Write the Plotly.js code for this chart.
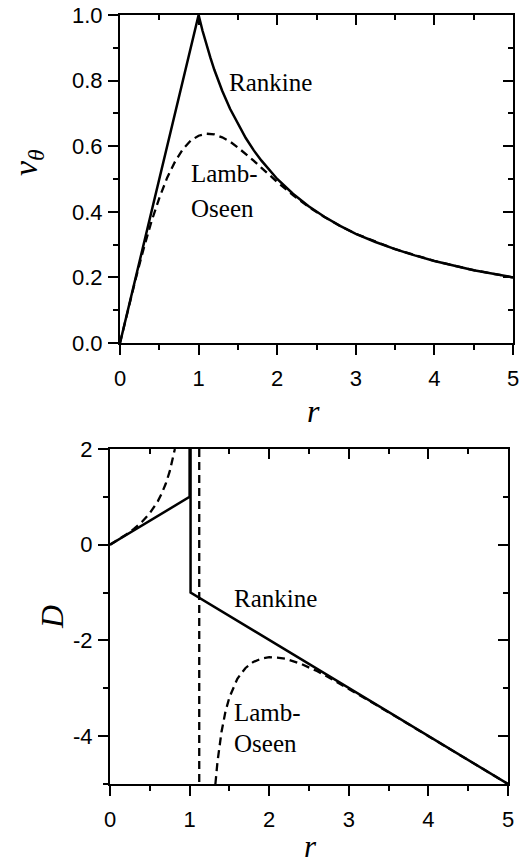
<!DOCTYPE html>
<html>
<head>
<meta charset="utf-8">
<script src="https://cdn.plot.ly/plotly-3.0.1.min.js"></script>
<style>html,body{margin:0;padding:0;background:#fff;}#chart{width:524px;height:867px;}</style>
</head>
<body>
<div id="chart"></div>
<script>
// ---- Top panel: azimuthal velocity v_theta vs r ----
const rankineVR = [0, 1, 1.05, 1.1, 1.15, 1.2, 1.3, 1.4, 1.5, 1.6, 1.7, 1.8, 2.0, 2.2, 2.4, 2.6, 2.8, 3.0, 3.25, 3.5, 3.75, 4.0, 4.5, 5.0];
const rankineV  = [0, 1, 0.952, 0.909, 0.870, 0.833, 0.769, 0.714, 0.667, 0.625, 0.588, 0.556, 0.500, 0.455, 0.417, 0.385, 0.357, 0.333, 0.308, 0.286, 0.267, 0.250, 0.222, 0.200];
const lambVR = [0, 0.1, 0.2, 0.3, 0.4, 0.5, 0.6, 0.7, 0.8, 0.9, 1.0, 1.1, 1.2, 1.3, 1.4, 1.5, 1.6, 1.7, 1.8, 1.9, 2.0, 2.2, 2.4, 2.6, 2.8, 3.0, 3.5, 4.0, 4.5, 5.0];
const lambV  = [0, 0.0995, 0.196, 0.287, 0.370, 0.442, 0.504, 0.553, 0.591, 0.617, 0.632, 0.638, 0.636, 0.627, 0.614, 0.596, 0.577, 0.556, 0.534, 0.512, 0.491, 0.451, 0.415, 0.384, 0.357, 0.333, 0.286, 0.250, 0.222, 0.200];

// ---- Bottom panel: D vs r ----
const rankineDR = [0, 1, 1, 1.012, 1.012, 5];
const rankineD  = [0, 1, 2, 2, -1, -5];
const lambDR = [0, 0.1, 0.2, 0.3, 0.4, 0.5, 0.6, 0.65, 0.7, 0.75, 0.8, 0.815, null, 1.121, 1.121, null,
                1.324, 1.35, 1.4, 1.45, 1.5, 1.6, 1.7, 1.8, 1.9, 2.0, 2.1, 2.2, 2.4, 2.6, 2.8, 3.0, 3.5, 4.0, 4.5, 5.0];
const lambD  = [0, 0.101, 0.208, 0.329, 0.474, 0.658, 0.907, 1.071, 1.273, 1.531, 1.870, 2.0, null, 2.0, -5.0, null,
                -5.0, -4.54, -3.92, -3.49, -3.19, -2.80, -2.58, -2.45, -2.38, -2.35, -2.36, -2.38, -2.49, -2.64, -2.82, -3.01, -3.5, -4.0, -4.5, -5.0];

const xTickVals = [0, 1, 2, 3, 4, 5];
const xTickText = ['0', '1', '2', '3', '4', '5'];
const vTickVals = [0, 0.2, 0.4, 0.6, 0.8, 1.0];
const vTickText = ['0.0', '0.2', '0.4', '0.6', '0.8', '1.0'];
const dTickVals = [2, 0, -2, -4];
const dTickText = ['2', '0', '-2', '-4'];

const W = 524, H = 867;
const px = v => v / W;
const py = v => 1 - v / H;

const solid = {color: '#000', width: 2.5};
const dashed = {color: '#000', width: 2.3, dash: '8px,5px'};

const traces = [
  {x: lambVR, y: lambV, mode: 'lines', line: dashed, xaxis: 'x', yaxis: 'y', hoverinfo: 'skip'},
  {x: rankineVR, y: rankineV, mode: 'lines', line: solid, xaxis: 'x', yaxis: 'y', hoverinfo: 'skip'},
  {x: lambDR, y: lambD, mode: 'lines', line: dashed, xaxis: 'x2', yaxis: 'y2', connectgaps: false, hoverinfo: 'skip'},
  {x: rankineDR, y: rankineD, mode: 'lines', line: solid, xaxis: 'x2', yaxis: 'y2', hoverinfo: 'skip'},
  // empty helpers so that the mirrored (top/right) frame axes are drawn
  {x: [], y: [], mode: 'lines', xaxis: 'x3', yaxis: 'y', hoverinfo: 'skip'},
  {x: [], y: [], mode: 'lines', xaxis: 'x', yaxis: 'y3', hoverinfo: 'skip'},
  {x: [], y: [], mode: 'lines', xaxis: 'x4', yaxis: 'y2', hoverinfo: 'skip'},
  {x: [], y: [], mode: 'lines', xaxis: 'x2', yaxis: 'y4', hoverinfo: 'skip'}
];

const tickFont = {family: 'Liberation Sans, Arial, sans-serif', size: 22, color: '#000'};
const baseAx = {
  showline: true, linecolor: '#000', linewidth: 2, showgrid: false, zeroline: false,
  ticks: 'outside', ticklen: 10, tickwidth: 2, tickcolor: '#000', tickfont: tickFont,
  fixedrange: true, autorange: false
};
const mirrorAx = Object.assign({}, baseAx, {ticks: 'inside', showticklabels: false});
const minorOut = d => ({tickmode: 'linear', tick0: 0, dtick: d, ticks: 'outside', ticklen: 5, tickwidth: 2, tickcolor: '#000'});
const minorIn = d => ({tickmode: 'linear', tick0: 0, dtick: d, ticks: 'inside', ticklen: 5, tickwidth: 2, tickcolor: '#000'});

const topX = [px(120), px(513)];
const topY = [1 - 343 / H, 1 - 15 / H];
const botX = [px(110), px(508)];
const botY = [1 - 784 / H, 1 - 449 / H];

const layout = {
  width: W, height: H,
  margin: {l: 0, r: 0, t: 0, b: 0},
  paper_bgcolor: '#fff', plot_bgcolor: 'rgba(0,0,0,0)',
  showlegend: false,
  xaxis: Object.assign({}, baseAx, {domain: topX, anchor: 'y', range: [0, 5], tickmode: 'array', tickvals: xTickVals, ticktext: xTickText, ticklabelstandoff: 5, minor: minorOut(0.5)}),
  yaxis: Object.assign({}, baseAx, {domain: topY, anchor: 'x', range: [0, 1], tickmode: 'array', tickvals: vTickVals, ticktext: vTickText, ticklabelstandoff: 1, minor: minorOut(0.1)}),
  xaxis3: Object.assign({}, mirrorAx, {overlaying: 'x', side: 'top', anchor: 'y', range: [0, 5], tickmode: 'linear', dtick: 1, tick0: 0, minor: minorIn(0.5)}),
  yaxis3: Object.assign({}, mirrorAx, {overlaying: 'y', side: 'right', anchor: 'x', range: [0, 1], tickmode: 'linear', dtick: 0.2, tick0: 0, minor: minorIn(0.1)}),
  xaxis2: Object.assign({}, baseAx, {domain: botX, anchor: 'y2', range: [0, 5], tickmode: 'array', tickvals: xTickVals, ticktext: xTickText, ticklabelstandoff: 5, minor: minorOut(0.5)}),
  yaxis2: Object.assign({}, baseAx, {domain: botY, anchor: 'x2', range: [-5, 2], tickmode: 'array', tickvals: dTickVals, ticktext: dTickText, ticklabelstandoff: 1, minor: minorOut(1)}),
  xaxis4: Object.assign({}, mirrorAx, {overlaying: 'x2', side: 'top', anchor: 'y2', range: [0, 5], tickmode: 'linear', dtick: 1, tick0: 0, minor: minorIn(0.5)}),
  yaxis4: Object.assign({}, mirrorAx, {overlaying: 'y2', side: 'right', anchor: 'x2', range: [-5, 2], tickmode: 'linear', dtick: 2, tick0: 0, minor: minorIn(1)}),
  annotations: []
};

const serif = 'Liberation Serif, Times New Roman, serif';
function ann(text, x, y, size, opts) {
  return Object.assign({text: text, xref: 'paper', yref: 'paper', x: px(x), y: py(y), showarrow: false,
    xanchor: 'left', yanchor: 'middle', font: {family: serif, size: size, color: '#000'}}, opts || {});
}
layout.annotations.push(
  ann('Rankine', 227, 82, 25),
  ann('Lamb-', 189, 173, 25),
  ann('Oseen', 189, 208, 25),
  ann('Rankine', 232, 598, 25),
  ann('Lamb-', 232, 712, 25),
  ann('Oseen', 232, 743, 25),
  ann('<i>r</i>', 313, 411, 32, {xanchor: 'center'}),
  ann('<i>r</i>', 310, 866, 31, {xanchor: 'center', yanchor: 'bottom'}),
  ann('<i>v</i><sub><i>θ</i></sub>', 28, 163, 34, {xanchor: 'center', textangle: -90}),
  ann('<i>D</i>', 52, 617, 32, {xanchor: 'center', textangle: -90})
);

Plotly.newPlot('chart', traces, layout, {displayModeBar: false, staticPlot: true});
</script>
</body>
</html>
